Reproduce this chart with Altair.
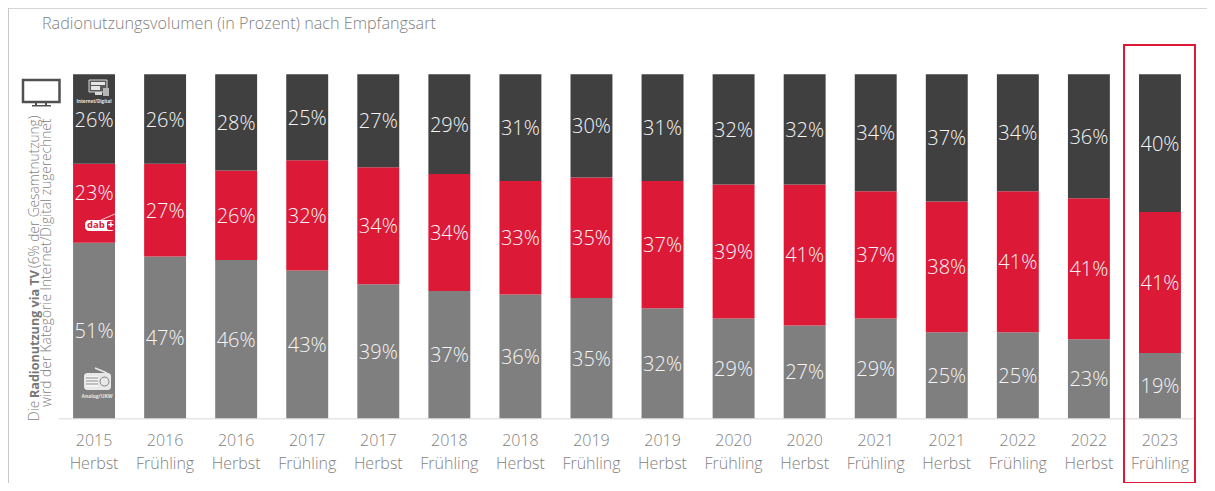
import altair as alt
import pandas as pd

periods = ["2015 Herbst", "2016 Frühling", "2016 Herbst", "2017 Frühling", "2017 Herbst", "2018 Frühling",
           "2018 Herbst", "2019 Frühling", "2019 Herbst", "2020 Frühling", "2020 Herbst", "2021 Frühling",
           "2021 Herbst", "2022 Frühling", "2022 Herbst", "2023 Frühling"]
analog = [51, 47, 46, 43, 39, 37, 36, 35, 32, 29, 27, 29, 25, 25, 23, 19]
dab = [23, 27, 26, 32, 34, 34, 33, 35, 37, 39, 41, 37, 38, 41, 41, 41]
digital = [26, 26, 28, 25, 27, 29, 31, 30, 31, 32, 32, 34, 37, 34, 36, 40]
series = ["Analog/UKW", "DAB+", "Internet/Digital"]
colors = ["#7f7f7f", "#dc1a38", "#404040"]

rows = []
for i, p in enumerate(periods):
    base = 0
    for s, v in zip(series, (analog[i], dab[i], digital[i])):
        rows.append({"period": p, "series": s, "v0": base, "v1": base + v, "mid": base + v / 2,
                     "label": f"{v}%", "first": i == 0})
        base += v
df = pd.DataFrame(rows)

FONT = "Open Sans"
GREY = "#7f7f7f"
x_enc = alt.X("period:N", sort=periods, title=None,
              scale=alt.Scale(paddingInner=0.41, paddingOuter=0.205),
              axis=alt.Axis(labelExpr="split(datum.label, ' ')", labelAngle=0, labelFont=FONT, labelFontSize=16,
                            labelColor=GREY, labelPadding=14, labelLineHeight=23, ticks=False,
                            labelFontWeight=300,
                            domainColor="#d9d9d9", domainWidth=1, labelAlign="center", labelBaseline="top"))
y_scale = alt.Scale(domain=[0, 100], nice=False)

bars = alt.Chart(df).mark_bar().encode(
    x=x_enc,
    y=alt.Y("v0:Q", scale=y_scale, axis=None),
    y2="v1:Q",
    color=alt.Color("series:N", sort=series, scale=alt.Scale(domain=series, range=colors), legend=None),
)
label_base = alt.Chart(df).encode(
    x=alt.X("period:N", sort=periods, title=None),
    y=alt.Y("mid:Q", scale=y_scale, axis=None),
    text="label:N",
)
style = dict(font=FONT, fontSize=20, fontWeight=300, color="#f6f6f6", baseline="middle", align="center")
labels = label_base.transform_filter("!(datum.first && datum.series == 'DAB+')").mark_text(dy=1.5, **style)
labels_first = label_base.transform_filter("datum.first && datum.series == 'DAB+'").mark_text(dy=-9, **style)


def txt(s, px, py, **kw):
    opts = dict(font=FONT, color=GREY, align="left", baseline="middle")
    opts.update(kw)
    return alt.Chart(pd.DataFrame({"t": [s]})).mark_text(**opts).encode(
        x=alt.value(px), y=alt.value(py), text="t:N")


def box(x0, y0, x1, y1, **kw):
    return alt.Chart(pd.DataFrame({"a": [0]})).mark_rect(**kw).encode(
        x=alt.value(x0), x2=alt.value(x1), y=alt.value(y0), y2=alt.value(y1))


def line(x0, y0, x1, y1, **kw):
    return alt.Chart(pd.DataFrame({"a": [0]})).mark_rule(**kw).encode(
        x=alt.value(x0), x2=alt.value(x1), y=alt.value(y0), y2=alt.value(y1))


L, T = 58.5, 74.3   # page position of the plot area
def X(v): return v - L
def Y(v): return v - T

deco = [
    # frame
    box(X(8), Y(8), X(1215), Y(9), color="#d4d4d4"),
    box(X(7), Y(8), X(9), Y(491), color="#c8c8c8"),
    # title
    txt("Radionutzungsvolumen (in Prozent) nach Empfangsart", X(42), Y(24), fontSize=16.2, fontWeight=300),
    # highlight
    box(X(1124), Y(45), X(1195), Y(483), fill="transparent", stroke="#dc1a38", strokeWidth=2),
    # side note
    txt("Die", X(35), Y(421), angle=270, fontSize=13.7, fontWeight=300),
    txt("Radionutzung via TV", X(35), Y(398), angle=270, fontSize=12.6, fontWeight="bold", color="#777777"),
    txt("(6% der Gesamtnutzung)", X(35), Y(268), angle=270, fontSize=13.7, fontWeight=300),
    txt("wird der Kategorie Internet/Digital zugerechnet", X(47), Y(407), angle=270, fontSize=13.7, fontWeight=300),
    # TV icon
    box(X(23), Y(80), X(59.5), Y(102), fill="transparent", stroke="#505050", strokeWidth=2.5),
    box(X(35), Y(102), X(37), Y(106), color="#505050"),
    box(X(45), Y(102), X(47), Y(106), color="#505050"),
    box(X(32), Y(105), X(51), Y(106.5), color="#505050"),
    # internet icon
    box(X(89), Y(80), X(107), Y(92), fill="#5a5a5a", stroke="#d9d9d9", strokeWidth=1),
    box(X(91), Y(82), X(105), Y(85), color="#e6e6e6"),
    box(X(91), Y(86), X(100), Y(90), color="#e6e6e6"),
    box(X(95), Y(92), X(102), Y(95), color="#d9d9d9"),
    box(X(103), Y(88), X(109), Y(96), color="#b5b5b5"),
    txt("Internet/Digital", X(94), Y(102.5), align="center", fontSize=4.5, color="#e6e6e6", fontWeight="bold"),
    # DAB+ logo
    line(X(101), Y(220), X(115), Y(214), color="#f2c9d0", strokeWidth=1),
    box(X(85), Y(220), X(115), Y(231), color="#ffffff", cornerRadius=4),
    txt("dab", X(87), Y(225), fontSize=9.5, fontWeight="bold", color="#dc1a38"),
    box(X(107), Y(221), X(115), Y(230), color="#dc1a38", cornerRadius=2),
    txt("+", X(111), Y(225), align="center", fontSize=11, fontWeight="bold", color="#ffffff"),
    # radio icon
    line(X(95), Y(368), X(107), Y(373), color="#e8e8e8", strokeWidth=1.5),
    box(X(84), Y(373), X(111), Y(390), fill="#e8e8e8", cornerRadius=3),
    box(X(86), Y(376), X(98), Y(387), color="#f4f4f4"),
    line(X(86), Y(378), X(98), Y(378), color="#8c8c8c", strokeWidth=1),
    line(X(86), Y(381), X(98), Y(381), color="#8c8c8c", strokeWidth=1),
    line(X(86), Y(384), X(98), Y(384), color="#8c8c8c", strokeWidth=1),
    box(X(100), Y(377), X(109), Y(386), fill="#e8e8e8", stroke="#7f7f7f", strokeWidth=1, cornerRadius=4.5),
    txt("Analog/UKW", X(97), Y(396), align="center", fontSize=5, color="#e6e6e6", fontWeight="bold"),
]

chart = alt.layer(bars, labels, labels_first, *deco).properties(
    width=1137, height=344,
    autosize=alt.AutoSizeParams(type="none"),
    padding={"left": 50.5, "top": 66.3, "right": 11, "bottom": 65},
).configure_view(stroke=None)

chart.save("out.html", embed_options={"renderer": "svg", "actions": False})
